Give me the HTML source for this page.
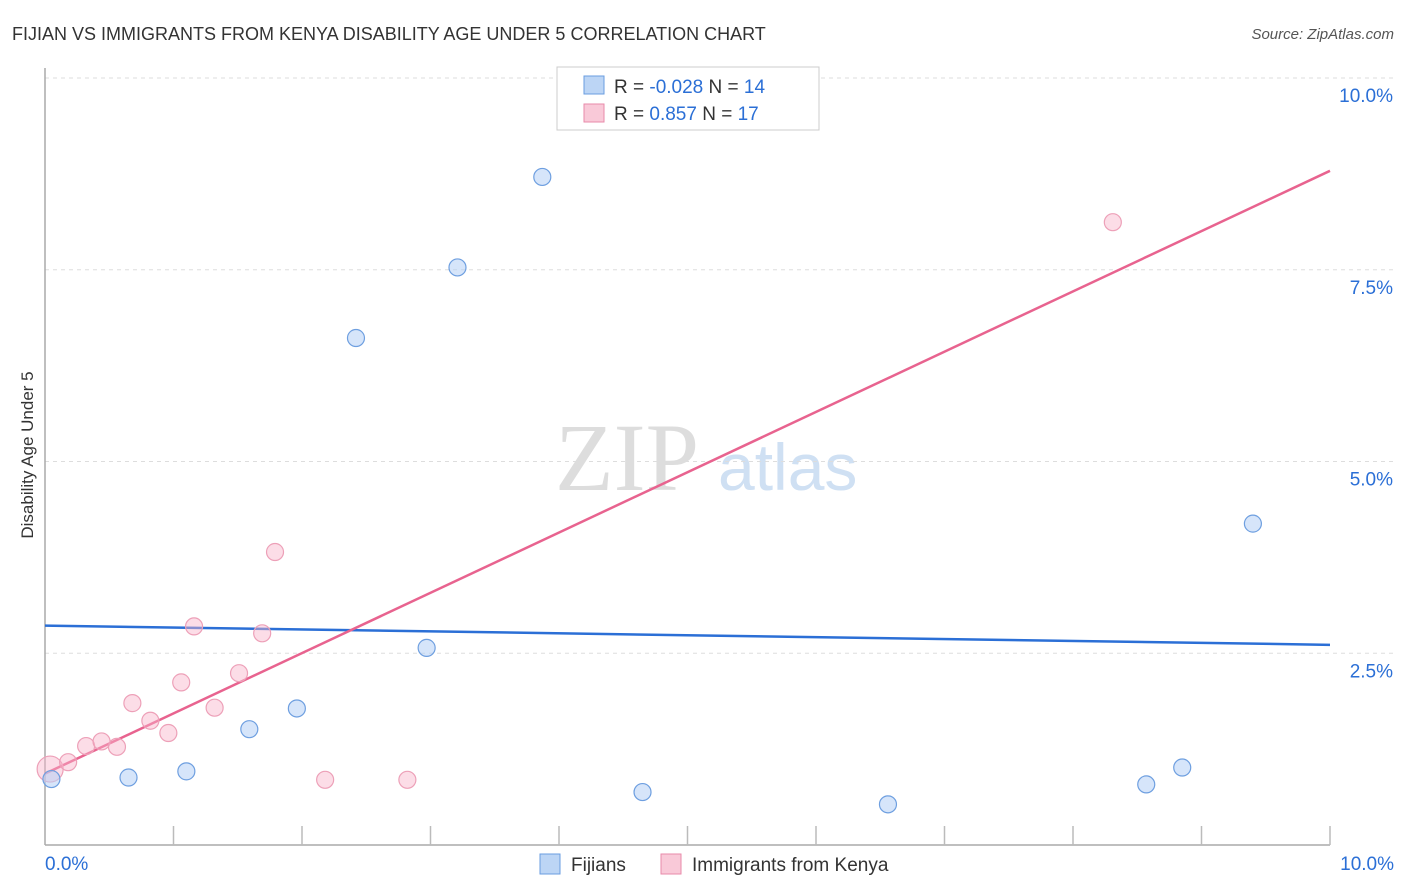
<!DOCTYPE html>
<html><head><meta charset="utf-8"><style>
body{margin:0;background:#fff;font-family:"Liberation Sans",sans-serif}
svg{display:block}
</style></head><body>
<svg id="chart" width="1406" height="892">
<text x="12" y="40" font-size="18" fill="#333">FIJIAN VS IMMIGRANTS FROM KENYA DISABILITY AGE UNDER 5 CORRELATION CHART</text>
<text x="1394" y="39" font-size="15" fill="#555" font-style="italic" text-anchor="end">Source: ZipAtlas.com</text>
<text transform="translate(33,455) rotate(-90)" font-size="17" fill="#333" text-anchor="middle">Disability Age Under 5</text>
<text x="555" y="490" font-size="96" fill="#ddd" font-family="Liberation Serif">ZIP</text>
<text x="718" y="490" font-size="66" fill="#cfe0f3">atlas</text>
<g id="grid"></g><g id="axes"></g><g id="lines"></g><g id="pts"></g>
<g>
<rect x="557" y="67" width="262" height="63" fill="#fff" stroke="#ccc"/>
<rect x="584" y="76" width="20" height="18" fill="#bcd5f5" stroke="#6a9de0"/>
<rect x="584" y="104" width="20" height="18" fill="#f9c9d8" stroke="#e88aaa"/>
<text x="614" y="93" font-size="19" fill="#333">R = <tspan fill="#2b6fd6">-0.028</tspan>   N = <tspan fill="#2b6fd6">14</tspan></text>
<text x="614" y="120" font-size="19" fill="#333">R =   <tspan fill="#2b6fd6">0.857</tspan>   N = <tspan fill="#2b6fd6">17</tspan></text>
</g>
<g>
<rect x="540" y="854" width="20" height="20" fill="#bcd5f5" stroke="#6a9de0"/>
<text x="571" y="871" font-size="19" fill="#333">Fijians</text>
<rect x="661" y="854" width="20" height="20" fill="#f9c9d8" stroke="#e88aaa"/>
<text x="692" y="871" font-size="19" fill="#333">Immigrants from Kenya</text>
</g>
</svg>
<script>
const yTicks=[2.5,5.0,7.5,10.0];
const fijX=[0.05,0.65,1.1,1.59,1.96,2.42,2.97,3.21,3.87,4.65,6.56,8.57,8.85,9.4];
const fijY=[0.86,0.88,0.96,1.51,1.78,6.61,2.57,7.53,8.71,0.69,0.53,0.79,1.01,4.19];
const kenX=[0.04,0.18,0.32,0.44,0.56,0.68,0.82,0.96,1.06,1.16,1.32,1.51,1.69,1.79,2.18,2.82,8.31];
const kenY=[0.99,1.08,1.29,1.35,1.28,1.85,1.62,1.46,2.12,2.85,1.79,2.24,2.76,3.82,0.85,0.85,8.12];
const fijLine=[2.86,2.61];
const kenLine=[0.93,8.79];
const NS='http://www.w3.org/2000/svg';
const X=v=>45+v*128.5, Y=v=>845-v*76.7;
function mk(t,a,p){const e=document.createElementNS(NS,t);for(const k in a)e.setAttribute(k,a[k]);p.appendChild(e);return e;}
const g=document.getElementById('grid');
yTicks.forEach(t=>{
 const l=mk('line',{x1:45,x2:1394,y1:Y(t),y2:Y(t),stroke:'#ddd','stroke-dasharray':'4,4'},g);
 
 
 const tx=mk('text',{x:1393,y:Y(t)+24,'font-size':19,fill:'#2b6fd6','text-anchor':'end'},g);
 tx.textContent=t.toFixed(1)+'%';
 
 
});
const ax=document.getElementById('axes');
mk('line',{x1:45,x2:45,y1:68,y2:845,stroke:'#aaa','stroke-width':1.5},ax);
mk('line',{x1:45,x2:1330,y1:845,y2:845,stroke:'#aaa','stroke-width':1.5},ax);
for(let i=1;i<=10;i++){mk('line',{x1:X(i),x2:X(i),y1:826,y2:845,stroke:'#bbb','stroke-width':1.5},ax);}
[['0.0%',45,'start'],['10.0%',1394,'end']].forEach(d=>{
 const t=mk('text',{x:d[1],y:870,'font-size':19,fill:'#2b6fd6','text-anchor':d[2]},ax);t.textContent=d[0];
 
 
});
const ln=document.getElementById('lines');
const bl=mk('line',{x1:X(0),x2:X(10),y1:Y(fijLine[0]),y2:Y(fijLine[1]),stroke:'#2b6fd6','stroke-width':2.5},ln);


const pl=mk('line',{x1:X(0),x2:X(10),y1:Y(kenLine[0]),y2:Y(kenLine[1]),stroke:'#e8638f','stroke-width':2.5},ln);


const pg=document.getElementById('pts');
kenX.forEach((x,i)=>{const c=mk('circle',{cx:X(x),cy:Y(kenY[i]),r:i==0?13:8.5,fill:'rgba(248,180,202,0.45)',stroke:'#eda0b8','stroke-width':1.2},pg);
 
 });
fijX.forEach((x,i)=>{const c=mk('circle',{cx:X(x),cy:Y(fijY[i]),r:8.5,fill:'rgba(180,208,245,0.55)',stroke:'#6e9fe0','stroke-width':1.2},pg);
 
 });
</script>
</body></html>
